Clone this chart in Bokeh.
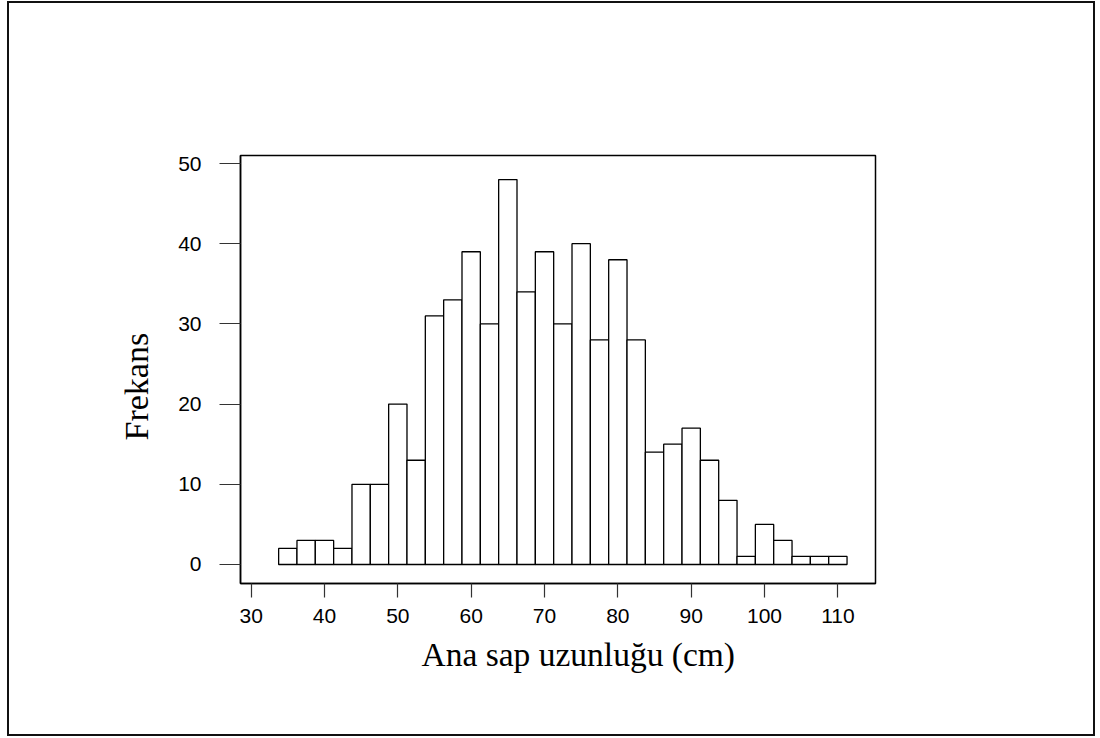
from bokeh.plotting import figure
from bokeh.models import Range1d, FixedTicker, Title
from bokeh.embed import file_html
from bokeh.resources import INLINE

# Histogram data (bin centres, bin width 2.5 cm) and frequencies
bin_centers = [35, 37.5, 40, 42.5, 45, 47.5, 50, 52.5, 55, 57.5, 60, 62.5, 65, 67.5,
               70, 72.5, 75, 77.5, 80, 82.5, 85, 87.5, 90, 92.5, 95, 97.5, 100,
               102.5, 105, 107.5, 110]
frequencies = [2, 3, 3, 2, 10, 10, 20, 13, 31, 33, 39, 30, 48, 34, 39, 30, 40, 28,
               38, 28, 14, 15, 17, 13, 8, 1, 5, 3, 1, 1, 1]
bin_width = 2.5
x_ticks = [30, 40, 50, 60, 70, 80, 90, 100, 110]
y_ticks = [0, 10, 20, 30, 40, 50]
x_label = "Ana sap uzunluğu (cm)"
y_label = "Frekans"

W, H = 1088, 735
p = figure(width=W, height=H, output_backend="svg", toolbar_location=None,
           x_range=Range1d(28.55, 115.13), y_range=Range1d(-2.37, 51.0),
           min_border_left=231, min_border_right=W - 866,
           min_border_top=152, min_border_bottom=H - 580)
p.styles = {"border": "2px solid #111", "margin-top": "1px", "margin-left": "7px"}

p.vbar(x=bin_centers, width=bin_width, top=frequencies, bottom=0,
       fill_color="white", line_color="black", line_width=1.3)

p.grid.visible = False
p.outline_line_color = "black"
p.outline_line_width = 1.5
p.outline_line_alpha = 1.0
p.background_fill_color = "white"
p.border_fill_color = "white"

for ax in (p.xaxis[0], p.yaxis[0]):
    ax.axis_line_color = "black"
    ax.axis_line_width = 1.5
    ax.major_tick_line_color = "#333333"
    ax.major_tick_line_width = 1.2
    ax.minor_tick_line_color = None
    ax.major_tick_in = 0
    ax.major_label_text_font = "Liberation Sans"
    ax.major_label_text_font_size = "21px"
    ax.major_label_text_color = "black"

p.xaxis.ticker = FixedTicker(ticks=x_ticks)
p.yaxis.ticker = FixedTicker(ticks=y_ticks)
p.xaxis.major_tick_out = 14
p.xaxis.major_label_standoff = 11
p.yaxis.major_tick_out = 21
p.yaxis.major_label_standoff = 18

tx = Title(text=x_label, align="left", offset=181, standoff=17,
           text_font="Liberation Serif", text_font_size="33.5px",
           text_font_style="normal", text_color="black")
p.add_layout(tx, "below")
ty = Title(text=y_label, align="left", offset=143, standoff=38, vertical_align="top",
           text_font="Liberation Serif", text_font_size="34px",
           text_font_style="normal", text_color="black")
p.add_layout(ty, "left")

open("out.html", "w").write(file_html(p, INLINE))
